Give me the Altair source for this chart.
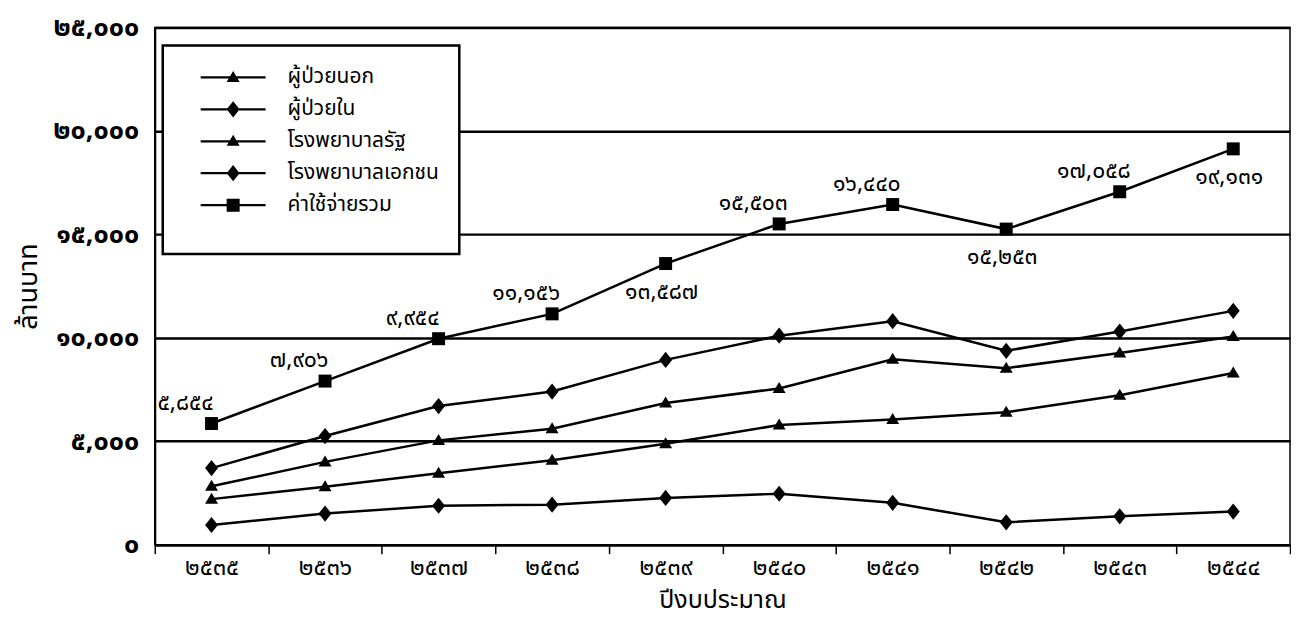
import altair as alt
import pandas as pd

# ---------------- data ----------------
years = ["๒๕๓๕", "๒๕๓๖", "๒๕๓๗", "๒๕๓๘", "๒๕๓๙", "๒๕๔๐", "๒๕๔๑", "๒๕๔๒", "๒๕๔๓", "๒๕๔๔"]
series_names = ["ผู้ป่วยนอก", "ผู้ป่วยใน", "โรงพยาบาลรัฐ", "โรงพยาบาลเอกชน", "ค่าใช้จ่ายรวม"]

outpatient = [2200, 2800, 3450, 4080, 4880, 5780, 6050, 6400, 7220, 8300]
inpatient = [3700, 5250, 6700, 7400, 8930, 10100, 10800, 9370, 10300, 11300]
public_hosp = [2820, 4000, 5040, 5600, 6850, 7550, 8960, 8530, 9260, 10060]
private_hosp = [950, 1500, 1880, 1930, 2260, 2460, 2020, 1080, 1370, 1600]
total = [5854, 7906, 9954, 11156, 13587, 15503, 16440, 15253, 17058, 19131]

total_labels = ["๕,๘๕๔", "๗,๙๐๖", "๙,๙๕๔", "๑๑,๑๕๖", "๑๓,๕๘๗",
                "๑๕,๕๐๓", "๑๖,๔๔๐", "๑๕,๒๕๓", "๑๗,๐๕๘", "๑๙,๑๓๑"]
label_side = ["above", "above", "above", "above", "below",
              "above", "above", "below", "above", "below"]

y_ticks = [0, 5000, 10000, 15000, 20000, 25000]
y_tick_labels = ["๐", "๕,๐๐๐", "๑๐,๐๐๐", "๑๕,๐๐๐", "๒๐,๐๐๐", "๒๕,๐๐๐"]

# ---------------- tables ----------------
series_values = [outpatient, inpatient, public_hosp, private_hosp, total]
rows = []
for name, vals in zip(series_names, series_values):
    for yr, v in zip(years, vals):
        rows.append({"year": yr, "series": name, "value": v})
df = pd.DataFrame(rows)

df_total = pd.DataFrame({"year": years, "value": total,
                         "label": total_labels, "side": label_side})

# marker shapes for the plot
tri = "M0,-0.2L0.2,0.14L-0.2,0.14Z"
dia = "M0,-0.25L0.2,0L0,0.25L-0.2,0Z"
sq = "M-0.2,-0.2H0.2V0.2H-0.2Z"
shape_range = [tri, dia, tri, dia, sq]
# legend symbols: the same markers on a thin filled bar (a line segment)
bar = "M-1,-0.035H1V0.035H-1Z"
legend_range = [bar + p for p in shape_range]

FONT = "Noto Sans Thai, Loma, Garuda, Tahoma, sans-serif"

label_expr = " : ".join(
    f"datum.value == {v} ? '{t}'" for v, t in zip(y_ticks, y_tick_labels)
) + " : ''"

x_enc = alt.X(
    "year:N", sort=years,
    scale=alt.Scale(type="band", paddingInner=0, paddingOuter=0),
    axis=alt.Axis(title="ปีงบประมาณ", labelAngle=0, tickBand="extent",
                  tickSize=9, tickWidth=1.5, tickColor="black",
                  domainColor="black", domainWidth=2.5,
                  labelFontSize=24, labelFont=FONT, labelColor="black",
                  labelPadding=2, titleFontSize=25, titleFont=FONT,
                  titleFontWeight="normal", titleColor="black", titlePadding=8,
                  grid=False),
)
y_enc = alt.Y(
    "value:Q",
    scale=alt.Scale(domain=[0, 25000], nice=False),
    axis=alt.Axis(title="ล้านบาท", values=y_ticks, labelExpr=label_expr,
                  grid=True, gridColor="black", gridWidth=2.5, gridOpacity=1,
                  domainColor="black", domainWidth=2, tickSize=0,
                  labelFontSize=27, labelFont=FONT, labelColor="black",
                  labelFontWeight="bold", labelPadding=16,
                  titleFontSize=27, titleFont=FONT, titleFontWeight="normal",
                  titleColor="black", titlePadding=10),
)

base = alt.Chart(df)

lines = base.mark_line(color="black", strokeWidth=2.5).encode(
    x=x_enc, y=y_enc, detail="series:N"
)

points = base.mark_point(filled=True, color="black", opacity=1, size=4225).encode(
    x=x_enc, y=y_enc,
    shape=alt.Shape("series:N",
                    scale=alt.Scale(domain=series_names, range=shape_range),
                    legend=None),
)

# legend-only layer (no rows survive the filter; entries come from the domain)
legend_layer = base.transform_filter(alt.datum.value < 0).mark_point(
    filled=True, color="black", opacity=1, size=4225
).encode(
    x=x_enc, y=y_enc,
    shape=alt.Shape(
        "series:N",
        scale=alt.Scale(domain=series_names, range=legend_range),
        legend=alt.Legend(title=" ", titleOrient="bottom", titleFontSize=12,
                          titlePadding=6, orient="none", legendX=8, legendY=18,
                          symbolFillColor="black"),
    ),
)

tbase = alt.Chart(df_total)
labels_above = tbase.transform_filter(alt.datum.side == "above").mark_text(
    dx=-26, dy=-21, fontSize=23, font=FONT, color="black"
).encode(x=x_enc, y=y_enc, text="label:N")
labels_below = tbase.transform_filter(alt.datum.side == "below").mark_text(
    dx=-4, dy=28, fontSize=23, font=FONT, color="black"
).encode(x=x_enc, y=y_enc, text="label:N")

chart = alt.layer(lines, points, legend_layer, labels_above, labels_below).resolve_scale(
    shape="independent"
).properties(
    width=1137, height=518,
    padding={"left": 6, "top": 5, "right": 0, "bottom": 8},
).configure_view(
    stroke="black", strokeWidth=1.5
).configure_legend(
    strokeColor="black", strokeWidth=2.5, fillColor="white", padding=20,
    symbolSize=4225, symbolStrokeWidth=0, symbolFillColor="black",
    symbolOffset=18, labelOffset=22,
    clipHeight=24, rowPadding=8, labelFontSize=21, labelFont=FONT,
    labelColor="black", labelLimit=400,
)

chart.save("out.html", embed_options={"renderer": "svg", "actions": False})
